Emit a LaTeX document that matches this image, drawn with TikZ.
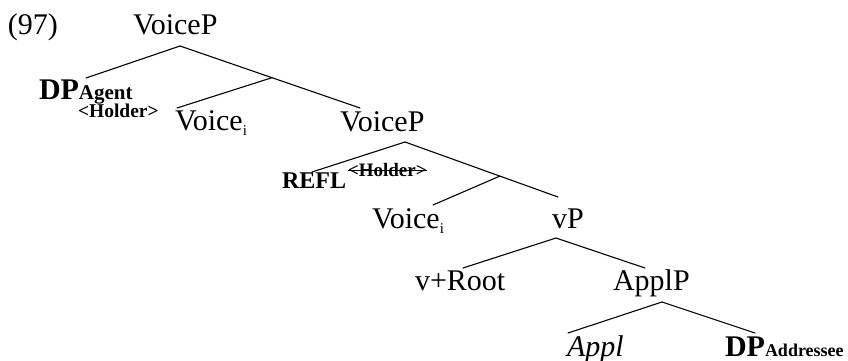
\documentclass[tikz,border=0pt]{standalone}
\usepackage{fontspec}
\setmainfont{Liberation Serif}
\usetikzlibrary{calc}

\newcommand{\lowi}{\raisebox{-5pt}{\fontsize{15}{15}\selectfont i}}

\begin{document}
\begin{tikzpicture}[x=1pt, y=-1pt, every node/.style={inner sep=0pt, outer sep=0pt, anchor=base west}]
	\tikzstyle{branch}=[line width=1.1pt, line cap=round]
	\tikzstyle{lbl}=[font=\fontsize{30}{36}\selectfont]
	\tikzstyle{boldlbl}=[font=\fontsize{30}{36}\selectfont\bfseries]
	\tikzstyle{role}=[font=\fontsize{21}{21}\selectfont\bfseries]
	\tikzstyle{holder}=[font=\fontsize{19.5}{20}\selectfont\bfseries]
	
	\useasboundingbox (0,0) rectangle (848,361);
	
	% labels
	\node (ex) at (8,35) [lbl] {(97)};
	\node (vpA) at (133,35) [lbl] {VoiceP};
	\node (dpA) at (39,99) [boldlbl] {DP};
	\node (agA) at (dpA.base east) [role] {Agent};
	\node (holdA) at (78,117) [holder] {<Holder>};
	\node (voiA) at (175,130) [lbl] {Voice\lowi};
	\node (vpB) at (340,131) [lbl] {VoiceP};
	\node (refl) at (282,188) [font=\fontsize{24}{28}\selectfont\bfseries] {REFL};
	\node (holdB) at ($(refl.base east)+(2,-12)$) [holder, font=\fontsize{19}{20}\selectfont\bfseries] {<Holder>};
	\draw [line width=0.9pt] ($(holdB.base west)+(0,-5.5)$) -- ($(holdB.base east)+(0,-5.5)$);
	\node (voiB) at (372,228) [lbl] {Voice\lowi};
	\node (vP) at (552,228) [lbl] {vP};
	\node (vroot) at (415,290) [lbl] {v+Root};
	\node (applP) at (613,290) [lbl] {ApplP};
	\node (appl) at (567,356) [lbl, font=\fontsize{30}{36}\selectfont\itshape] {Appl};
	\node (dpB) at (725,356) [boldlbl] {DP};
	\node (adB) at (dpB.base east) [role, font=\fontsize{18}{18}\selectfont\bfseries] {Addressee};
	
	% branch points
	\coordinate (vpA-b) at (180,46);
	\coordinate (dpA-t) at (86,78);
	\coordinate (vpB-t) at (360,108);
	\coordinate (barA) at ($(vpA-b)!0.511!(vpB-t)$);
	\coordinate (voiA-t) at (177,108);
	\coordinate (vpB-b) at (405,142);
	\coordinate (refl-t) at (312,172);
	\coordinate (vP-t) at (558,197);
	\coordinate (barB) at ($(vpB-b)!0.62!(vP-t)$);
	\coordinate (voiB-t) at (433,205);
	\coordinate (vP-b) at (556,238);
	\coordinate (vroot-t) at (463,268);
	\coordinate (applP-t) at (645,268);
	\coordinate (applP-b) at (662,302);
	\coordinate (appl-t) at (568,333);
	\coordinate (dpB-t) at (755,333);
	
	\draw [branch] (vpA-b) -- (dpA-t);
	\draw [branch] (vpA-b) -- (vpB-t);
	\draw [branch] (barA) -- (voiA-t);
	\draw [branch] (vpB-b) -- (refl-t);
	\draw [branch] (vpB-b) -- (vP-t);
	\draw [branch] (barB) -- (voiB-t);
	\draw [branch] (vP-b) -- (vroot-t);
	\draw [branch] (vP-b) -- (applP-t);
	\draw [branch] (applP-b) -- (appl-t);
	\draw [branch] (applP-b) -- (dpB-t);
\end{tikzpicture}
\end{document}
